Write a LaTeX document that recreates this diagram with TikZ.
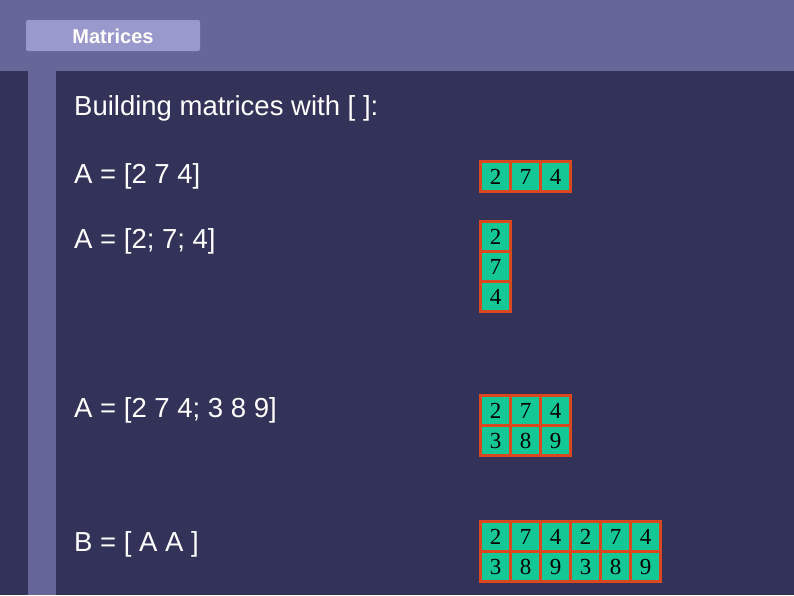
\documentclass[tikz,border=0pt]{standalone}
\usepackage{fontspec}
\setmainfont{Liberation Sans}
\newfontfamily\digitfont{Liberation Serif}
\definecolor{slidebg}{RGB}{51,51,89}
\definecolor{bandblue}{RGB}{102,102,153}
\definecolor{tabblue}{RGB}{153,153,204}
\definecolor{cellgreen}{RGB}{20,200,150}
\definecolor{cellred}{RGB}{218,72,32}

\begin{document}
\begin{tikzpicture}[x=1pt,y=-1pt,
  cell/.style={draw=cellred,fill=cellgreen,line width=3pt,minimum size=30pt,inner sep=0pt,
    font=\digitfont\fontsize{23}{25}\selectfont},
  line/.style={anchor=base west,text=white,inner sep=0pt,font=\fontsize{27.5}{32}\selectfont}]

\begin{scope}
% slide background
\fill[slidebg] (0,0) rectangle (794,595);
\fill[bandblue] (0,0) rectangle (794,71);
\fill[bandblue] (28,71) rectangle (56,595);
\fill[tabblue,rounded corners=2pt] (26,20) rectangle (200,51);
\node[anchor=base,text=white,inner sep=0pt,font=\bfseries\fontsize{20}{23}\selectfont] (title) at (113,43) {Matrices};
\end{scope}

\node[line] (intro) at (74,115) {Building matrices with [ ]:};
\node[line] (row) at (74,183) {A = [2 7 4]};
\node[line] (col) at (74,248) {A = [2; 7; 4]};
\node[line] (mat) at (74,417) {A = [2 7 4; 3 8 9]};
\node[line] (big) at (74,551) {B = [ A A ]};

% row vector
\foreach \v [count=\j] in {2,7,4}
  \node[cell] (r\j) at ({465.5+30*\j},176.5) {\v};

% column vector
\foreach \v [count=\i] in {2,7,4}
  \node[cell] (c\i) at (495.5,{206.5+30*\i}) {\v};

% 2x3 matrix
\foreach \v [count=\j] in {2,7,4}
  \node[cell] (ma\j) at ({465.5+30*\j},410.5) {\v};
\foreach \v [count=\j] in {3,8,9}
  \node[cell] (mb\j) at ({465.5+30*\j},440.5) {\v};

% 2x6 matrix
\foreach \v [count=\j] in {2,7,4,2,7,4}
  \node[cell] (ba\j) at ({465.5+30*\j},536.5) {\v};
\foreach \v [count=\j] in {3,8,9,3,8,9}
  \node[cell] (bb\j) at ({465.5+30*\j},566.5) {\v};

\end{tikzpicture}
\end{document}
